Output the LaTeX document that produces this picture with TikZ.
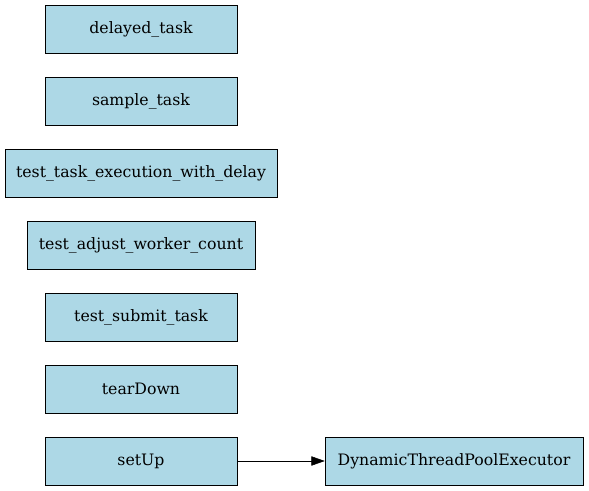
\documentclass[tikz,border=0pt]{standalone}
\usepackage{fontspec}
\setmainfont{DejaVu Serif}
\usetikzlibrary{positioning,arrows.meta}
\definecolor{boxblue}{HTML}{ADD8E6}
\begin{document}
\begin{tikzpicture}[every node/.style={rectangle, draw, fill=boxblue, minimum height=36pt, minimum width=144pt, inner sep=0pt, font=\fontsize{11.8}{13}\selectfont}, node distance=17.6pt, x=0.75pt, y=-0.75pt, >={Triangle[length=10pt,width=7pt]}]

\useasboundingbox (0,0) rectangle (589,491);

\node (delayed) at (141,29) {delayed\_task};
\node (sample) [below=of delayed] {sample\_task};
\node (execdelay) [below=of sample, minimum width=204pt] {test\_task\_execution\_with\_delay};
\node (adjust) [below=of execdelay, minimum width=171pt] {test\_adjust\_worker\_count};
\node (submit) [below=of adjust] {test\_submit\_task};
\node (teardown) [below=of submit] {tearDown};
\node (setup) [below=of teardown] {setUp};
\node (executor) [right=65.6pt of setup, minimum width=193.5pt] {DynamicThreadPoolExecutor};

\draw[->] (setup) -- (executor);
\end{tikzpicture}
\end{document}
